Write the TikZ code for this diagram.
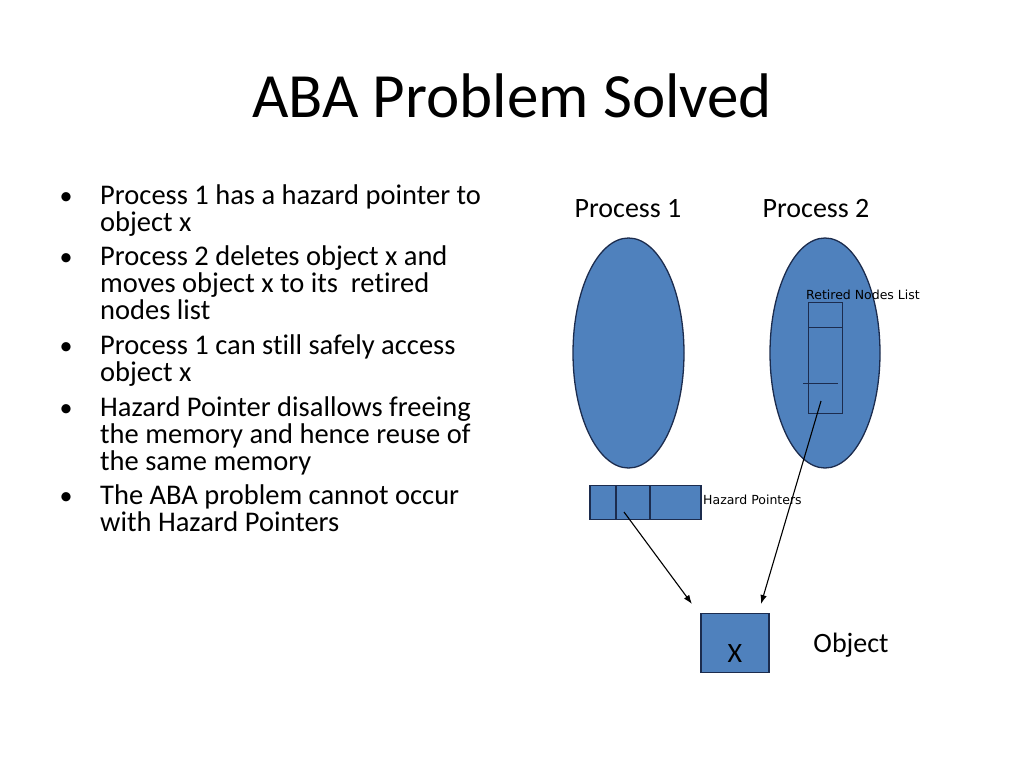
\documentclass[tikz,border=0pt]{standalone}
\usepackage{fontspec}
\setmainfont{Carlito}[Ligatures=NoCommon]
\newfontfamily\labelfont{DejaVu Sans}
\usetikzlibrary{shapes.geometric, arrows.meta}
\definecolor{shapeblue}{RGB}{79,129,189}
\definecolor{shapeline}{RGB}{28,44,78}

\begin{document}
\begin{tikzpicture}[x=1pt, y=-1pt,
  blueshape/.style={fill=shapeblue, draw=shapeline, line width=1.3pt, inner sep=0pt},
  itemtext/.style={anchor=base west, align=left, inner sep=0pt, font=\fontsize{28.5}{27}\selectfont},
  itemdot/.style={anchor=base, inner sep=0pt, font=\fontsize{26}{27}\selectfont},
  bigtag/.style={anchor=base, inner sep=0pt, font=\fontsize{28}{30}\selectfont},
  smalltag/.style={anchor=base west, inner sep=0pt, font=\labelfont\fontsize{12.5}{14}\selectfont},
  pointer/.style={black, line width=1.1pt, -{Latex[length=9pt, width=6.5pt]}}]
  \useasboundingbox (0,0) rectangle (1024,768);

  \node[anchor=base, inner sep=0pt, font=\fontsize{63}{70}\selectfont] (title) at (512,117) {ABA Problem Solved};

  % bullet list (anchored on the baseline of the last line)
  \node[itemdot] (dot1) at (66,204) {•};
  \node[itemtext] (item1) at (100,231) {Process 1 has a hazard pointer to\\object x};
  \node[itemdot] (dot2) at (66,265) {•};
  \node[itemtext] (item2) at (100,319) {Process 2 deletes object x and\\moves object x to its\ \ retired\\nodes list};
  \node[itemdot] (dot3) at (66,354) {•};
  \node[itemtext] (item3) at (100,381) {Process 1 can still safely access\\object x};
  \node[itemdot] (dot4) at (66,416) {•};
  \node[itemtext] (item4) at (100,470) {Hazard Pointer disallows freeing\\the memory and hence reuse of\\the same memory};
  \node[itemdot] (dot5) at (66,504) {•};
  \node[itemtext] (item5) at (100,531) {The ABA problem cannot occur\\with Hazard Pointers};

  % processes
  \node[bigtag] (p1tag) at (628,217) {Process 1};
  \node[bigtag] (p2tag) at (816,217) {Process 2};
  \node[blueshape, ellipse, minimum width=111pt, minimum height=230pt] (proc1) at (628.5,353) {};
  \node[blueshape, ellipse, minimum width=110pt, minimum height=230pt] (proc2) at (825,353) {};

  % retired nodes list
  \node[blueshape, minimum width=34pt, minimum height=111pt] (retired) at (825.5,357.8) {};
  \draw[shapeline, line width=1.3pt] (808.5,327.5) -- (842.5,327.5);
  \draw[shapeline, line width=1pt] (803,383) -- (838,383);
  \node[smalltag] (rtag) at (806,299) {Retired Nodes List};

  % hazard pointers
  \node[blueshape, minimum width=111pt, minimum height=34pt] (hazard) at (645.5,502.5) {};
  \draw[shapeline, line width=1.3pt] (616,485.5) -- (616,519.5);
  \draw[shapeline, line width=1.3pt] (650,485.5) -- (650,519.5);
  \node[smalltag] (htag) at (703,504) {Hazard Pointers};

  % object
  \node[blueshape, minimum width=68pt, minimum height=59pt] (obj) at (735,643) {};
  \node[bigtag] (objx) at (735,662) {X};
  \node[bigtag] (objtag) at (851,652) {Object};

  \coordinate (hpslot) at (624,512);
  \coordinate (rnslot) at (821,401);
  \coordinate (objleft) at (692,604);
  \coordinate (objright) at (761,604);
  \draw[pointer] (hpslot) -- (objleft);
  \draw[pointer] (rnslot) -- (objright);
\end{tikzpicture}
\end{document}
